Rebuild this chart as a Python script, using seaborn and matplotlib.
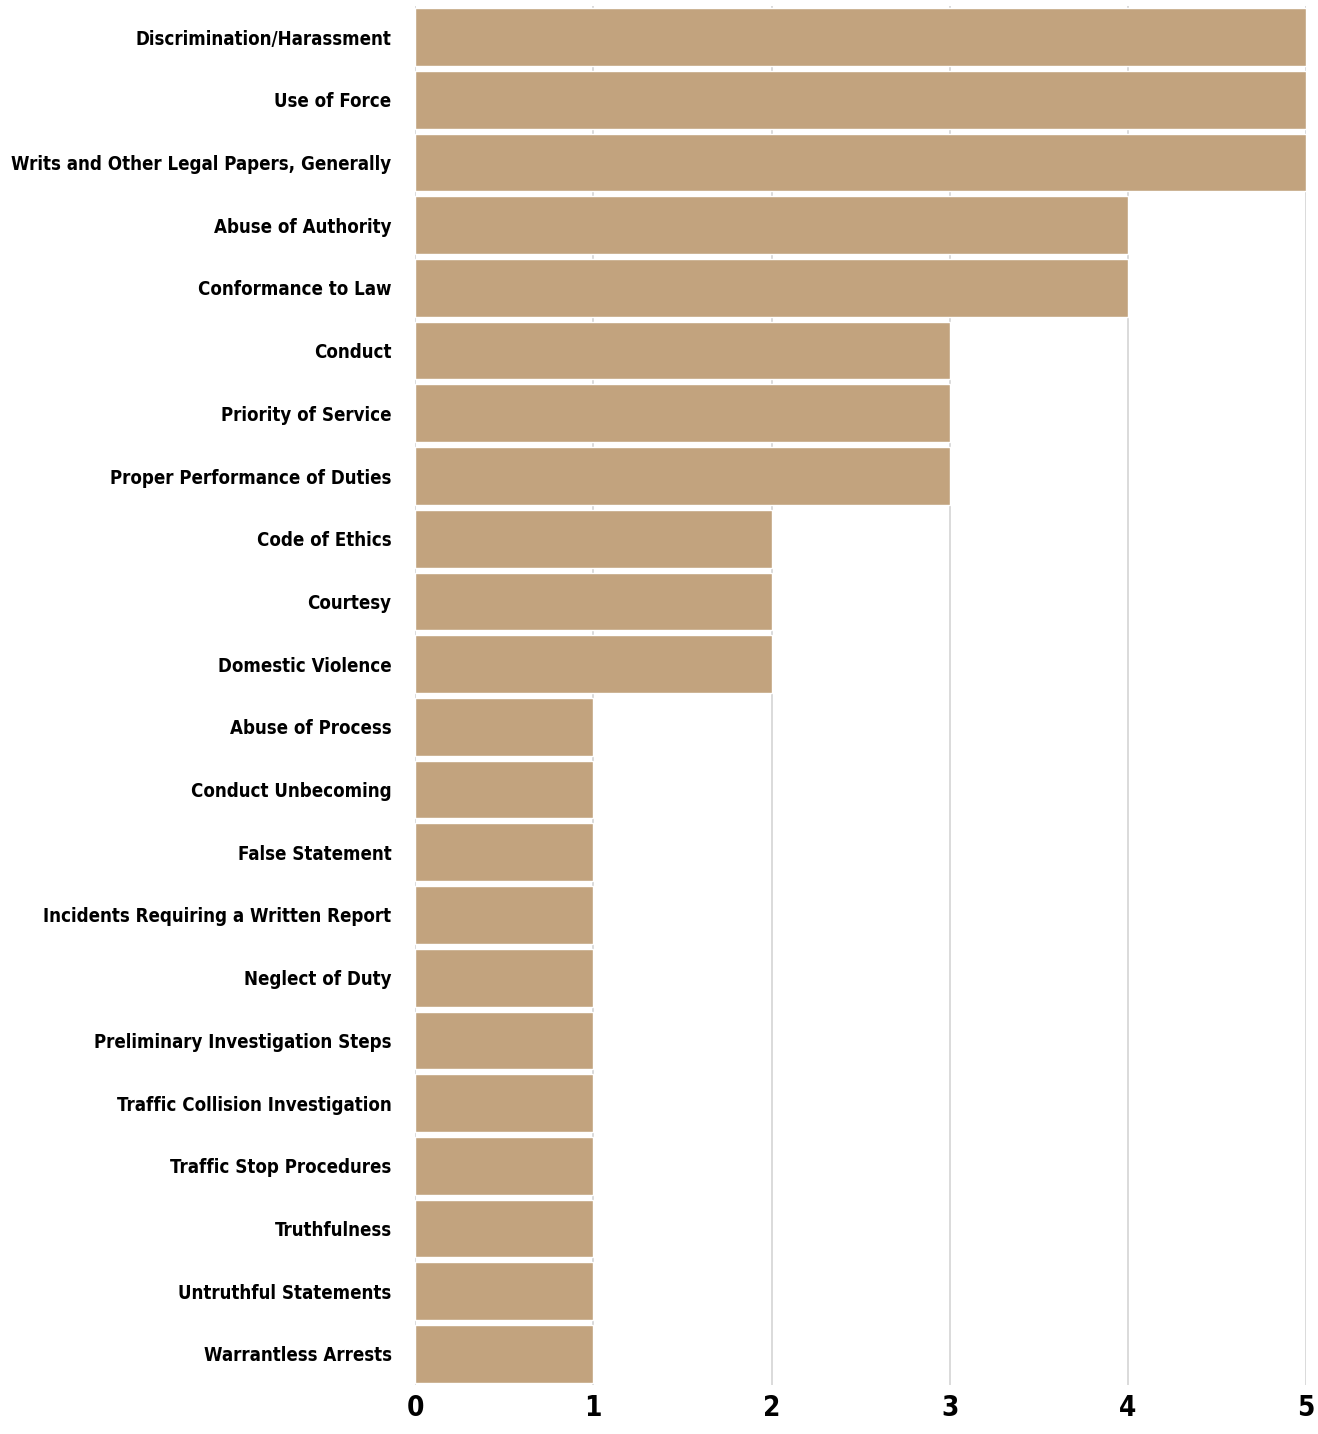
import matplotlib
matplotlib.use("Agg")
import matplotlib.pyplot as plt
from matplotlib import font_manager
import pandas as pd
import seaborn as sns

categories = [
    "Discrimination/Harassment",
    "Use of Force",
    "Writs and Other Legal Papers, Generally",
    "Abuse of Authority",
    "Conformance to Law",
    "Conduct",
    "Priority of Service",
    "Proper Performance of Duties",
    "Code of Ethics",
    "Courtesy",
    "Domestic Violence",
    "Abuse of Process",
    "Conduct Unbecoming",
    "False Statement",
    "Incidents Requiring a Written Report",
    "Neglect of Duty",
    "Preliminary Investigation Steps",
    "Traffic Collision Investigation",
    "Traffic Stop Procedures",
    "Truthfulness",
    "Untruthful Statements",
    "Warrantless Arrests",
]
counts = [5, 5, 5, 4, 4, 3, 3, 3, 2, 2, 2, 1, 1, 1, 1, 1, 1, 1, 1, 1, 1, 1]
x_ticks = [0, 1, 2, 3, 4, 5]

bar_color = "#C2A37E"


def pick_narrow_font():
    """Find the narrowest bold-ish family that is installed"""
    entries = font_manager.fontManager.ttflist
    names = {f.name for f in entries}
    if "Liberation Sans Narrow" in names:
        return "Liberation Sans Narrow", "normal"
    for f in entries:
        if f.name == "DejaVu Sans" and f.stretch == "condensed":
            return "DejaVu Sans", "condensed"
    return "DejaVu Sans", "normal"


def main():
    df = pd.DataFrame({"category": categories, "count": counts})

    sns.set_theme(style="white")
    family, stretch = pick_narrow_font()
    plt.rcParams["font.family"] = [family, "DejaVu Sans"]
    plt.rcParams["font.stretch"] = stretch

    fig = plt.figure(figsize=(13.18, 14.34), dpi=100)
    ax = fig.add_axes([0.315, 0.034, 0.676, 0.962])

    sns.barplot(data=df, x="count", y="category", color=bar_color,
                saturation=1, width=0.92, ax=ax, zorder=2)

    ax.set_xlim(0, 5)
    ax.set_xticks(x_ticks)
    ax.set_xticklabels([str(t) for t in x_ticks], fontsize=20, fontweight="bold",
                       color="black")
    ax.grid(axis="x", color="#d4d4d4", linewidth=1.2, zorder=0)
    ax.set_axisbelow(True)
    for side in ["top", "right", "left", "bottom"]:
        ax.spines[side].set_visible(False)
    ax.tick_params(axis="y", length=0, pad=17, labelsize=21)
    ax.tick_params(axis="x", length=0, pad=6)
    for lbl in ax.get_yticklabels():
        lbl.set_fontweight("bold")
        lbl.set_color("black")
    ax.set_xlabel("")
    ax.set_ylabel("")

    # shrink the category labels until the longest one fits left of the axes
    fig.canvas.draw()
    renderer = fig.canvas.get_renderer()
    widest = max(l.get_window_extent(renderer).width for l in ax.get_yticklabels())
    target = 380.0
    if widest > target:
        size = 21 * target / widest
        for lbl in ax.get_yticklabels():
            lbl.set_fontsize(size)

    fig.savefig("out.png", dpi=100, facecolor="white")


if __name__ == "__main__":
    main()
